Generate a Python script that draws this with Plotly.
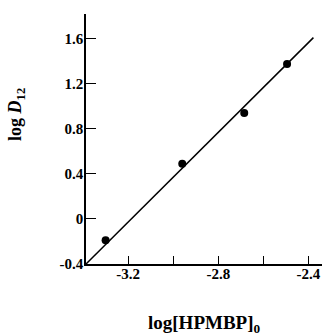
import plotly.graph_objects as go

# data
pts_x = [-3.30, -2.96, -2.685, -2.495]
pts_y = [-0.19, 0.49, 0.94, 1.375]
fit_x = [-3.387, -2.378]
fit_y = [-0.40, 1.61]

x_tickvals = [-3.2, -3.0, -2.8, -2.6, -2.4]
x_ticktext = ["-3.2", "", "-2.8", "", "-2.4"]
y_tickvals = [-0.4, 0, 0.4, 0.8, 1.2, 1.6]
y_ticktext = ["-0.4", "0", "0.4", "0.8", "1.2", "1.6"]

font_fam = "Liberation Serif, DejaVu Serif, serif"

fig = go.Figure()
fig.add_trace(go.Scatter(x=fit_x, y=fit_y, mode="lines",
                         line=dict(color="black", width=1.5), showlegend=False))
fig.add_trace(go.Scatter(x=pts_x, y=pts_y, mode="markers",
                         marker=dict(color="black", size=8), showlegend=False))

fig.update_layout(
    width=329, height=336,
    margin=dict(l=86, r=7, t=14, b=72),
    paper_bgcolor="white", plot_bgcolor="white",
    font=dict(family=font_fam, color="black", size=15),
    xaxis=dict(range=[-3.387, -2.34], tickvals=x_tickvals, ticktext=x_ticktext,
               ticks="inside", ticklen=8, tickwidth=1.2, tickcolor="black",
               showline=True, linecolor="black", linewidth=1.5,
               showgrid=False, zeroline=False, ticklabelstandoff=-5,
               tickfont=dict(family=font_fam, size=15, weight="bold")),
    yaxis=dict(range=[-0.4, 1.82], tickvals=y_tickvals, ticktext=y_ticktext,
               ticks="inside", ticklen=10, tickwidth=1.2, tickcolor="black",
               showline=True, linecolor="black", linewidth=1.5,
               showgrid=False, zeroline=False, ticklabelstandoff=-2,
               tickfont=dict(family=font_fam, size=15, weight="bold")),
    annotations=[
        dict(text="log <i>D</i><sub>12</sub>", xref="paper", yref="paper",
             x=-0.297, y=0.60, xanchor="center", yanchor="middle", textangle=-90,
             showarrow=False, font=dict(family=font_fam, size=18, weight="bold")),
        dict(text="log[HPMBP]<sub>0</sub>", xref="paper", yref="paper",
             x=0.504, y=-0.24, xanchor="center", yanchor="middle",
             showarrow=False, font=dict(family=font_fam, size=19, weight="bold")),
    ],
)

fig.write_html("out.html", config={"displayModeBar": False},
               post_script="document.body.style.margin='0';")
